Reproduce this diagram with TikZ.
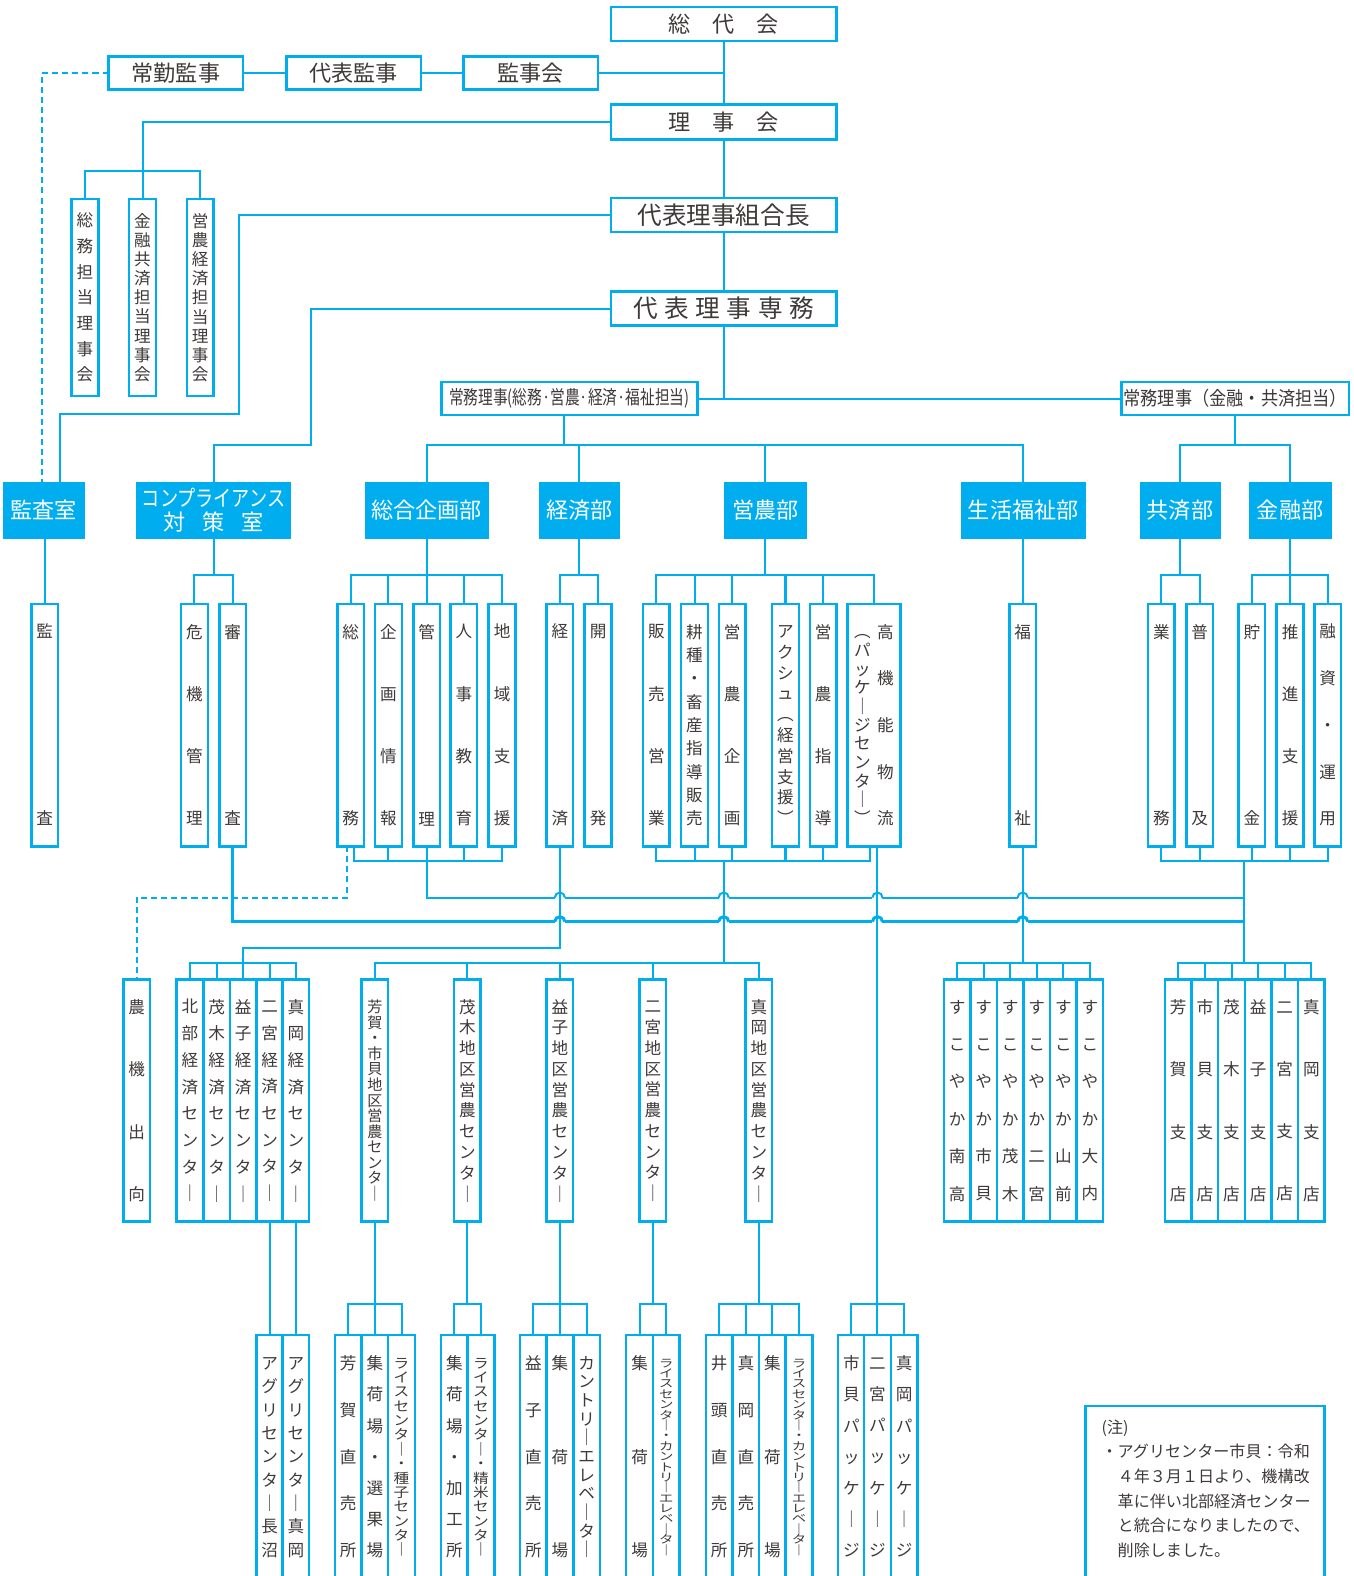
\documentclass[tikz,border=0pt]{standalone}
\usepackage{fontspec}
\usepackage{graphicx}
\setmainfont{Noto Sans CJK JP}
\newfontfamily\jpwideA[FakeStretch=1.15]{Noto Sans CJK JP}
\newfontfamily\jpwideB[FakeStretch=1.3]{Noto Sans CJK JP}
\definecolor{orgline}{HTML}{00AEEF}
\definecolor{orgtext}{HTML}{3E3A39}
\makeatletter
\newcommand{\tate}[1]{\tate@a#1\@nil}
\def\tate@a#1#2\@nil{\vphantom{国}#1\ifx\relax#2\relax\else\\\tate@a#2\@nil\fi}
\makeatother
\newcommand{\tatex}[2]{\edef\vlbl{#1#2}\expandafter\tate\expandafter{\vlbl}}

\begin{document}
\begin{tikzpicture}[x=1pt,y=-1pt,
  every node/.style={outer sep=0pt},
  link/.style={orgline,line width=2pt},
  thklink/.style={orgline,line width=3pt},
  dlink/.style={orgline,line width=2pt,dash pattern=on 6pt off 4pt},
  hbox/.style={draw=orgline,line width=2.5pt,fill=white,text=orgtext,inner sep=0pt,minimum height=33pt,font=\fontsize{22}{24}\selectfont},
  head/.style={draw=orgline,fill=orgline,text=white,inner sep=0pt,minimum height=55pt,align=center,font=\fontsize{22}{24}\selectfont},
  lead/.style={font={\fontsize{16.5}{#1}\selectfont\lineskiplimit=-100pt}},
  leadsm/.style={font={\jpwideA\fontsize{13.5}{#1}\selectfont\lineskiplimit=-100pt}},
  leadxs/.style={font={\jpwideB\fontsize{11}{#1}\selectfont\lineskiplimit=-100pt}},
  vbox/.style={draw=orgline,line width=2.5pt,fill=white,text=orgtext,inner sep=0pt,align=center,minimum width=26.5pt,minimum height=241pt,lead=62},
  vcol/.style={text=orgtext,inner sep=0pt,align=center},
  bbox/.style={vbox,minimum height=243pt}]
\useasboundingbox (0,0) rectangle (1347,1568);
\clip (0,0) rectangle (1347,1568);

% top of the chart
\node[hbox,minimum width=224pt,minimum height=34pt] (sodai) at (720,24) {総　代　会};
\node[hbox,minimum width=134pt] (jokin) at (175,72.5) {常勤監事};
\node[hbox,minimum width=134pt] (daikan) at (352,72.5) {代表監事};
\node[hbox,minimum width=134pt] (kanjikai) at (528,72.5) {監事会};
\node[hbox,minimum width=224pt,minimum height=35pt] (rijikai) at (720,121.5) {理　事　会};
\node[hbox,minimum width=224pt,minimum height=34pt,font=\fontsize{24.5}{26}\selectfont] (kumiaicho) at (720,214) {代表理事組合長};
\node[hbox,minimum width=224pt,minimum height=34pt,font=\fontsize{24.5}{26}\selectfont] (senmu) at (720,307) {代\hspace{6.5pt}表\hspace{6.5pt}理\hspace{6.5pt}事\hspace{6.5pt}専\hspace{6.5pt}務};
\node[hbox,minimum width=255pt,font=\fontsize{19}{21}\selectfont] (jomuL) at (566.5,396.5) {\scalebox{0.77}[1]{常務理事(総務·営農·経済·福祉担当)}};
\node[hbox,minimum width=226pt,font=\fontsize{19}{21}\selectfont] (jomuR) at (1229,396.5) {\scalebox{0.9}[1]{常務理事（金融・共済担当）}};
\node[vbox,minimum height=196pt,lead=25.5] (tanto1) at (84.6,296) {\tate{総務担当理事会}};
\node[vbox,minimum height=196pt,lead=19.1] (tanto2) at (141.8,296) {\tate{金融共済担当理事会}};
\node[vbox,minimum height=196pt,lead=19.1] (tanto3) at (199.2,296) {\tate{営農経済担当理事会}};

% departments
\node[head,minimum width=81pt] (hKansa) at (43.5,507.5) {監査室};
\node[head,minimum width=153pt] (hComp) at (212.5,507.5) {\scalebox{0.82}[1]{コンプライアンス}\\対\hspace{17pt}策\hspace{17pt}室};
\node[head,minimum width=123pt] (hSogo) at (424.5,507.5) {総合企画部};
\node[head,minimum width=80pt] (hKeizai) at (576.5,507.5) {経済部};
\node[head,minimum width=81pt] (hEino) at (761.5,507.5) {営農部};
\node[head,minimum width=123pt] (hFukushi) at (1018,507.5) {生活福祉部};
\node[head,minimum width=80pt] (hKyosai) at (1174,507.5) {共済部};
\node[head,minimum width=81pt] (hKinyu) at (1283.5,507.5) {金融部};

% sections
\node[vbox,lead=186] (kansa) at (44.5,721.5) {\tate{監査}};
\node[vbox] (kiki) at (193.5,721.5) {\tate{危機管理}};
\node[vbox,lead=186] (shinsa) at (231.5,721.5) {\tate{審査}};
\node[vbox,lead=186] (somu) at (349,721.5) {\tate{総務}};
\node[vbox] (kikaku) at (386.5,721.5) {\tate{企画情報}};
\node[vbox,lead=186] (kanri) at (424.5,721.5) {\tate{管理}};
\node[vbox] (jinji) at (461.5,721.5) {\tate{人事教育}};
\node[vbox] (chiiki) at (499.5,721.5) {\tate{地域支援}};
\node[vbox,lead=186] (keizai) at (557,721.5) {\tate{経済}};
\node[vbox,lead=186] (kaihatsu) at (595,721.5) {\tate{開発}};
\node[vbox] (hanbai) at (653,721.5) {\tate{販売営業}};
\node[vbox,lead=23.25] (koshu) at (691,721.5) {\tate{耕種・畜産指導販売}};
\node[vbox] (einokikaku) at (728.5,721.5) {\tate{営農企画}};
\node[vbox,lead=20.67] (akushu) at (781.5,721.5) {\tate{アクシュ︵経営支援︶}};
\node[vbox] (einoshido) at (819,721.5) {\tate{営農指導}};
\node[vbox,minimum width=53pt] (kokino) at (869.5,721.5) {};
\node[vcol,lead=18.6] (kokinoL) at (858,721.5) {\tate{︵パッケ｜ジセンタ｜︶}};
\node[vcol,lead=46.5] (kokinoR) at (881,721.5) {\tate{高機能物流}};
\node[vbox,lead=186] (fukushi) at (1017.5,721.5) {\tate{福祉}};
\node[vbox,lead=186] (gyomu) at (1155.5,721.5) {\tate{業務}};
\node[vbox,lead=186] (fukyu) at (1193.5,721.5) {\tate{普及}};
\node[vbox,lead=186] (chokin) at (1245.5,721.5) {\tate{貯金}};
\node[vbox] (suishin) at (1283.5,721.5) {\tate{推進支援}};
\node[vbox,lead=46.5] (yushi) at (1321,721.5) {\tate{融資・運用}};

% centers and branches
\node[vbox] (nouki) at (136,1095) {\tate{農機出向}};
\node[vbox,lead=26.57] (kc1) at (189,1095) {\tate{北部経済センタ｜}};
\node[vbox,lead=26.57] (kc2) at (215.5,1095) {\tate{茂木経済センタ｜}};
\node[vbox,lead=26.57] (kc3) at (242,1095) {\tate{益子経済センタ｜}};
\node[vbox,lead=26.57] (kc4) at (268.3,1095) {\tate{二宮経済センタ｜}};
\node[vbox,lead=26.57] (kc5) at (294.4,1095) {\tate{真岡経済センタ｜}};
\node[vbox,font={\fontsize{15}{15.5}\selectfont\lineskiplimit=-100pt}] (ec1) at (373,1095) {\tate{芳賀・市貝地区営農センタ｜}};
\node[vbox,lead=20.67] (ec2) at (465,1095) {\tate{茂木地区営農センタ｜}};
\node[vbox,lead=20.67] (ec3) at (557,1095) {\tate{益子地区営農センタ｜}};
\node[vbox,lead=20.67] (ec4) at (649.5,1095) {\tate{二宮地区営農センタ｜}};
\node[vbox,lead=20.67] (ec5) at (755,1095) {\tate{真岡地区営農センタ｜}};
\foreach \lbl [count=\i] in {南高,市貝,茂木,二宮,山前,大内}
  \node[vbox,lead=37.2] (sk\i) at ({939+26.42*(\i-0.5)},1095) {\tatex{すこやか}{\lbl}};
\foreach \lbl [count=\i] in {芳賀,市貝,茂木,益子,二宮,真岡}
  \node[vbox] (st\i) at ({1159+26.5*(\i-0.5)},1095) {\tatex{\lbl}{支店}};

% facilities
\node[bbox,lead=23.25] (agri1) at (268.3,1449.5) {\tate{アグリセンタ｜長沼}};
\node[bbox,lead=23.25] (agri2) at (294.4,1449.5) {\tate{アグリセンタ｜真岡}};
\node[bbox,lead=46.5] (hg1) at (346.5,1449.5) {\tate{芳賀直売所}};
\node[bbox,lead=31] (hg2) at (373,1449.5) {\tate{集荷場・選果場}};
\node[bbox,leadsm=14.3] (hg3) at (399.5,1449.5) {\tate{ライスセンタ｜・種子センタ｜}};
\node[bbox,lead=31] (mo1) at (452,1449.5) {\tate{集荷場・加工所}};
\node[bbox,leadsm=14.3] (mo2) at (478.5,1449.5) {\tate{ライスセンタ｜・精米センタ｜}};
\node[bbox,lead=46.5] (ms1) at (530.7,1449.5) {\tate{益子直売所}};
\node[bbox,lead=93] (ms2) at (557,1449.5) {\tate{集荷場}};
\node[bbox,lead=18.6] (ms3) at (583.7,1449.5) {\tate{カントリ｜エレベ｜タ｜}};
\node[bbox,lead=93] (nm1) at (636.3,1449.5) {\tate{集荷場}};
\node[bbox,leadxs=10.33] (nm2) at (662.8,1449.5) {\tate{ライスセンタ｜・カントリ｜エレベ｜タ｜}};
\node[bbox,lead=46.5] (mk1) at (715.5,1449.5) {\tate{井頭直売所}};
\node[bbox,lead=46.5] (mk2) at (742,1449.5) {\tate{真岡直売所}};
\node[bbox,lead=93] (mk3) at (768.5,1449.5) {\tate{集荷場}};
\node[bbox,leadxs=10.33] (mk4) at (795,1449.5) {\tate{ライスセンタ｜・カントリ｜エレベ｜タ｜}};
\node[bbox,lead=31] (pk1) at (847,1449.5) {\tate{市貝パッケ｜ジ}};
\node[bbox,lead=31] (pk2) at (873,1449.5) {\tate{二宮パッケ｜ジ}};
\node[bbox,lead=31] (pk3) at (899.5,1449.5) {\tate{真岡パッケ｜ジ}};

% note
\node[draw=orgline,line width=2.5pt,minimum width=238pt,minimum height=190pt,anchor=north west] (note) at (1080,1399) {};
\node[text=orgtext,align=left,inner sep=0pt,anchor=north west,font=\fontsize{16}{24.5}\selectfont] (notetxt) at (1096,1412.5)
  {(注)\\・アグリセンター市貝：令和\\　４年３月１日より、機構改\\　革に伴い北部経済センター\\　と統合になりましたので、\\　削除しました。};

% levels and joints
\coordinate (lvT) at (0,170);
\coordinate (lvH) at (0,443);
\coordinate (lvA) at (0,572);
\coordinate (lvB) at (0,857);
\coordinate (lvC) at (0,893);
\coordinate (lvD) at (0,917);
\coordinate (lvE) at (0,943);
\coordinate (lvF) at (0,958);
\coordinate (lvG) at (0,1297);
\coordinate (jomuJ) at (720,396.5);
\coordinate (jomuLout) at (561,413);
\coordinate (turnK) at (237.8,412);
\coordinate (turnS) at (309,443);
\coordinate (kansaD) at ([xshift=-1.5pt]hKansa.north);
\coordinate (kansaS) at ([xshift=16.5pt]hKansa.north);
\coordinate (somuD) at ([xshift=-3.5pt]somu.south);
\coordinate (somuS) at ([xshift=3.5pt]somu.south);
\coordinate (kokinoB) at ([xshift=-3.5pt]kokino.south);
\coordinate (kokinoV) at ([xshift=3.5pt]kokino.south);
\coordinate (einoJ) at (720,857);
\coordinate (finJ) at (1238,857);

% board lines
\draw[link] (sodai.south) -- (rijikai.north);
\draw[link] (rijikai.south) -- (kumiaicho.north);
\draw[link] (kumiaicho.south) -- (senmu.north);
\draw[link] (senmu.south) -- (jomuJ);
\draw[link] (jomuL.east) -- (jomuR.west);
\draw[link] (jokin.east) -- (daikan.west);
\draw[link] (daikan.east) -- (kanjikai.west);
\draw[link] (kanjikai.east) -- (kanjikai.east -| sodai.south);
\draw[dlink] (jokin.west) -| (kansaD);
\draw[link] (rijikai.west) -| (tanto2.north);
\draw[link] (tanto1.north) |- (tanto3.north |- lvT) -- (tanto3.north);
\draw[link] (kumiaicho.west) -| (turnK) -| (kansaS);
\draw[link] (senmu.west) -| (turnS) -| (hComp.north);

% to departments
\draw[link] (jomuLout) -- (jomuLout |- lvH);
\draw[link] (hSogo.north) |- (hFukushi.north |- lvH) -- (hFukushi.north);
\foreach \n in {hKeizai,hEino} \draw[link] (\n.north) -- (\n.north |- lvH);
\draw[link] (jomuR.south) -- (jomuR.south |- lvH);
\draw[link] (hKyosai.north) |- (hKinyu.north |- lvH) -- (hKinyu.north);

% to sections
\draw[link] (hKansa.south -| kansa.north) -- (kansa.north);
\draw[link] (hComp.south) -- (hComp.south |- lvA);
\draw[link] (kiki.north) |- (shinsa.north |- lvA) -- (shinsa.north);
\draw[link] (hSogo.south) -- (hSogo.south |- lvA);
\draw[link] (somu.north) |- (chiiki.north |- lvA) -- (chiiki.north);
\foreach \n in {kikaku,kanri,jinji} \draw[link] (\n.north) -- (\n.north |- lvA);
\draw[link] (hKeizai.south) -- (hKeizai.south |- lvA);
\draw[link] (keizai.north) |- (kaihatsu.north |- lvA) -- (kaihatsu.north);
\draw[link] (hEino.south) -- (hEino.south |- lvA);
\draw[link] (hanbai.north) |- (kokino.north |- lvA) -- (kokino.north);
\foreach \n in {koshu,einokikaku,akushu,einoshido} \draw[link] (\n.north) -- (\n.north |- lvA);
\draw[link] (hFukushi.south -| fukushi.north) -- (fukushi.north);
\draw[link] (hKyosai.south) -- (hKyosai.south |- lvA);
\draw[link] (gyomu.north) |- (fukyu.north |- lvA) -- (fukyu.north);
\draw[link] (hKinyu.south) -- (hKinyu.south |- lvA);
\draw[link] (chokin.north) |- (yushi.north |- lvA) -- (yushi.north);
\draw[link] (suishin.north) -- (suishin.north |- lvA);

% under the sections
\draw[link] (somuS) |- (chiiki.south |- lvB) -- (chiiki.south);
\foreach \n in {kikaku,jinji} \draw[link] (\n.south) -- (\n.south |- lvB);
\draw[link] (hanbai.south) |- (kokinoB |- lvB) -- (kokinoB);
\foreach \n in {koshu,einokikaku,akushu,einoshido} \draw[link] (\n.south) -- (\n.south |- lvB);
\draw[link] (gyomu.south) |- (yushi.south |- lvB) -- (yushi.south);
\foreach \n in {fukyu,chokin,suishin} \draw[link] (\n.south) -- (\n.south |- lvB);
\draw[link] (kanri.south) |- (finJ |- lvC);
\draw[thklink] (shinsa.south) |- (finJ |- lvD);
\draw[dlink] (somuD) |- (nouki.north |- lvC) -- (nouki.north);
\foreach \hx in {557,720,873,1017.5}{
  \fill[white] (\hx-5,891) rectangle (\hx+5,895);
  \draw[link] (\hx-5,893) arc[start angle=180,end angle=0,radius=5pt];
  \fill[white] (\hx-5,914.5) rectangle (\hx+5,919.5);
  \draw[thklink] (\hx-5,917) arc[start angle=180,end angle=0,radius=5pt];
}
\draw[link] (keizai.south) |- (kc3.north |- lvE) -- (kc3.north |- lvF);
\draw[link] (einoJ) -- (einoJ |- lvF);
\draw[link] (kokinoV) -- (pk2.north |- lvG);
\draw[link] (fukushi.south) -- (fukushi.south |- lvF);
\draw[link] (finJ) -- (finJ |- lvF);

% second row bars
\draw[link] (kc1.north) |- (kc5.north |- lvF) -- (kc5.north);
\foreach \n in {kc2,kc3,kc4} \draw[link] (\n.north) -- (\n.north |- lvF);
\draw[link] (ec1.north) |- (ec5.north |- lvF) -- (ec5.north);
\foreach \n in {ec2,ec3,ec4} \draw[link] (\n.north) -- (\n.north |- lvF);
\draw[link] (sk1.north) |- (sk6.north |- lvF) -- (sk6.north);
\foreach \n in {sk2,sk3,sk4,sk5} \draw[link] (\n.north) -- (\n.north |- lvF);
\draw[link] (st1.north) |- (st6.north |- lvF) -- (st6.north);
\foreach \n in {st2,st3,st4,st5} \draw[link] (\n.north) -- (\n.north |- lvF);

% bottom row
\draw[link] (kc4.south) -- (agri1.north);
\draw[link] (kc5.south) -- (agri2.north);
\foreach \n in {ec1,ec2,ec3,ec4,ec5} \draw[link] (\n.south) -- (\n.south |- lvG);
\draw[link] (hg1.north) |- (hg3.north |- lvG) -- (hg3.north);
\draw[link] (hg2.north) -- (hg2.north |- lvG);
\draw[link] (mo1.north) |- (mo2.north |- lvG) -- (mo2.north);
\draw[link] (ms1.north) |- (ms3.north |- lvG) -- (ms3.north);
\draw[link] (ms2.north) -- (ms2.north |- lvG);
\draw[link] (nm1.north) |- (nm2.north |- lvG) -- (nm2.north);
\draw[link] (mk1.north) |- (mk4.north |- lvG) -- (mk4.north);
\foreach \n in {mk2,mk3} \draw[link] (\n.north) -- (\n.north |- lvG);
\draw[link] (pk1.north) |- (pk3.north |- lvG) -- (pk3.north);
\draw[link] (pk2.north) -- (pk2.north |- lvG);
\end{tikzpicture}
\end{document}
